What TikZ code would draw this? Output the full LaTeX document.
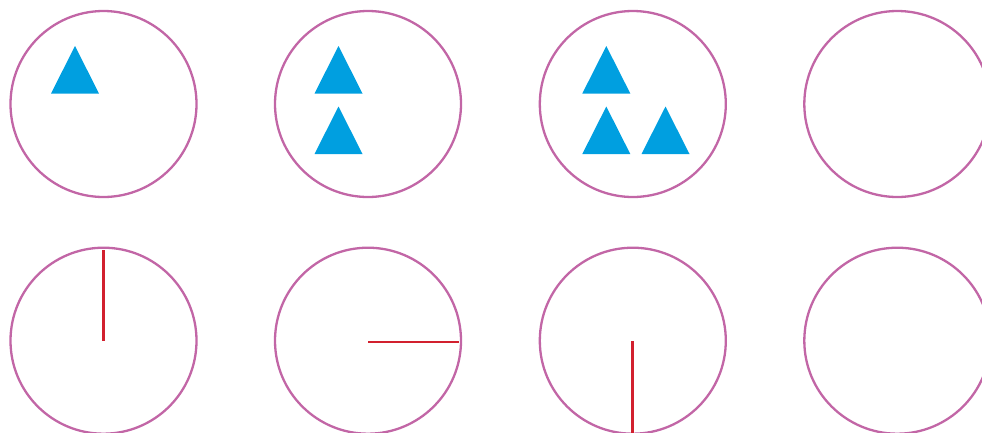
\documentclass[tikz,border=0pt]{standalone}
\definecolor{ringc}{HTML}{C266A6}
\definecolor{tric}{HTML}{009FE0}
\definecolor{handc}{HTML}{D2202E}
\tikzset{
  ring/.style={draw=ringc, line width=2.3pt},
  tri/.style={fill=tric, draw=none},
  hand/.style={draw=handc, line width=2.8pt}
}
\newcommand{\mytri}[2]{\fill[tri] (#1,#2) -- ++(-24,47.5) -- ++(48,0) -- cycle;}
\begin{document}
\begin{tikzpicture}[x=1pt,y=-1pt]
\useasboundingbox (0,0) rectangle (982,432);
\begin{scope}
\clip (0,0) rectangle (982,432);
\foreach \cx in {103.5,368,632.8,897.3}{
  \draw[ring] (\cx,104) circle (93);
  \draw[ring] (\cx,340.7) circle (93);
}
\mytri{75}{46}
\mytri{338.5}{46}
\mytri{338.5}{106.5}
\mytri{606.3}{46}
\mytri{606.3}{106.5}
\mytri{665.5}{106.5}
\draw[hand] (103.3,340.7) -- (103.3,250);
\draw[hand] (368,342) -- (459,342);
\draw[hand] (632.7,341) -- (632.7,440);
\end{scope}
\end{tikzpicture}
\end{document}
